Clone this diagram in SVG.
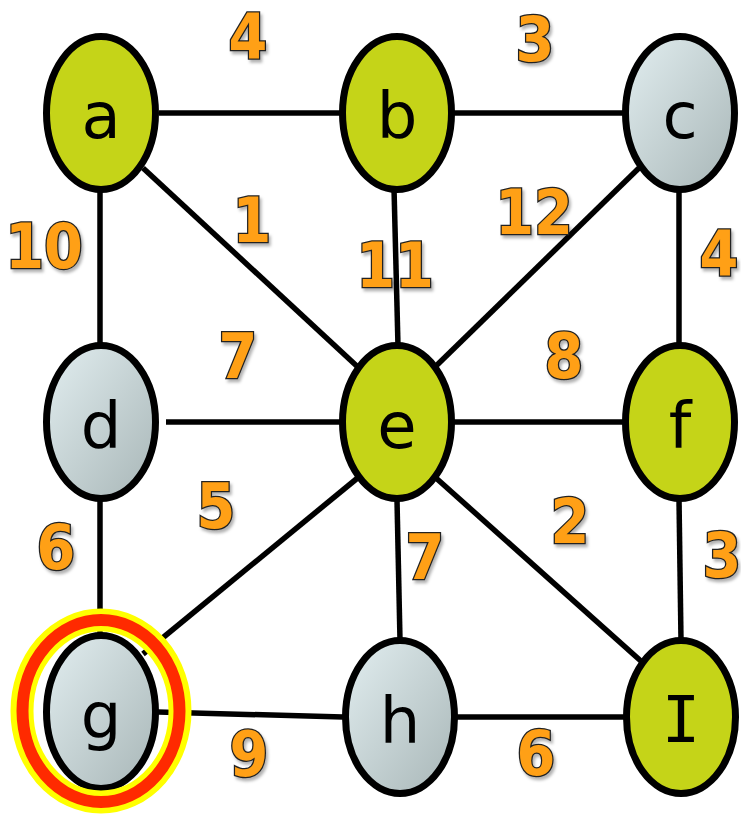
<svg xmlns="http://www.w3.org/2000/svg" width="741" height="815" viewBox="0 0 741 815">
<defs>
<linearGradient id="gray" x1="0" y1="0" x2="1" y2="1">
<stop offset="0" stop-color="#e2eef0"/>
<stop offset="1" stop-color="#a8b6b7"/>
</linearGradient>
<filter id="sh" x="-20%" y="-20%" width="150%" height="150%">
<feDropShadow dx="2" dy="3" stdDeviation="1.5" flood-color="#000" flood-opacity="0.3"/>
</filter>
</defs>
<style>
.edge{stroke:#000;stroke-width:5.5;fill:none}
.node ellipse{stroke:#000;stroke-width:7}
.green{fill:#c5d418}
.gray{fill:url(#gray)}
.lbl{font-family:"DejaVu Sans",Verdana,sans-serif;font-size:64px;fill:#000;text-anchor:middle}
.serif{font-family:"DejaVu Sans Mono","DejaVu Sans",monospace}
.w{font-family:"DejaVu Sans Condensed","DejaVu Sans",sans-serif;font-stretch:condensed;font-weight:bold;font-size:62px;fill:#ffa014;stroke:#222;stroke-width:2.5;paint-order:stroke;text-anchor:middle;filter:url(#sh)}
</style>
<rect width="741" height="815" fill="#fff"/>
<g id="connectors">
<line class="edge" x1="159" y1="113" x2="340" y2="113"/>
<line class="edge" x1="453" y1="113" x2="624" y2="113"/>
<line class="edge" x1="100" y1="190" x2="100" y2="346"/>
<line class="edge" x1="143" y1="168" x2="360" y2="369"/>
<line class="edge" x1="394" y1="188" x2="398" y2="346"/>
<line class="edge" x1="639" y1="168" x2="436" y2="366"/>
<line class="edge" x1="679" y1="190" x2="679" y2="346"/>
<line class="edge" x1="166" y1="422" x2="340" y2="422"/>
<line class="edge" x1="454" y1="422" x2="624" y2="422"/>
<line class="edge" x1="100" y1="498" x2="100" y2="636"/>
<line class="edge" x1="360" y1="476" x2="143" y2="654"/>
<line class="edge" x1="397" y1="500" x2="400" y2="640"/>
<line class="edge" x1="436" y1="478" x2="642" y2="662"/>
<line class="edge" x1="679" y1="499" x2="681" y2="640"/>
<line class="edge" x1="158" y1="712" x2="343" y2="717"/>
<line class="edge" x1="455" y1="717" x2="625" y2="717"/>
</g>
<g id="node-a" class="node"><ellipse class="green" cx="101" cy="113" rx="54.5" ry="76.5"/><text class="lbl" x="101" y="138">a</text></g>
<g id="node-b" class="node"><ellipse class="green" cx="397" cy="113" rx="54.5" ry="76.5"/><text class="lbl" x="397" y="138">b</text></g>
<g id="node-c" class="node"><ellipse class="gray" cx="680" cy="113" rx="54.5" ry="76.5"/><text class="lbl" x="680" y="138">c</text></g>
<g id="node-d" class="node"><ellipse class="gray" cx="101" cy="422" rx="54.5" ry="76.5"/><text class="lbl" x="101" y="448">d</text></g>
<g id="node-e" class="node"><ellipse class="green" cx="397" cy="422" rx="54.5" ry="76.5"/><text class="lbl" x="397" y="448">e</text></g>
<g id="node-f" class="node"><ellipse class="green" cx="680" cy="422" rx="54.5" ry="76.5"/><text class="lbl" x="680" y="448">f</text></g>
<g id="node-g" class="node"><ellipse class="gray" cx="101" cy="712" rx="54.5" ry="76.5"/><text class="lbl" x="101" y="738">g</text>
<ellipse cx="101" cy="711" rx="79" ry="91" fill="none" style="stroke:#ffff00;stroke-width:23"/>
<ellipse cx="101" cy="711" rx="78.5" ry="91" fill="none" style="stroke:#ff2a00;stroke-width:12"/></g>
<g id="node-h" class="node"><ellipse class="gray" cx="400" cy="717" rx="54.5" ry="76.5"/><text class="lbl" x="400" y="743">h</text></g>
<g id="node-I" class="node"><ellipse class="green" cx="681" cy="717" rx="54.5" ry="76.5"/><text class="lbl serif" x="681" y="742">I</text></g>
<g id="weights">
<text class="w" x="248" y="58">4</text>
<text class="w" x="535" y="61">3</text>
<text class="w" x="44" y="268">10</text>
<text class="w" x="252" y="242">1</text>
<text class="w" x="395" y="287">11</text>
<text class="w" x="534" y="234">12</text>
<text class="w" x="719" y="275">4</text>
<text class="w" x="238" y="378">7</text>
<text class="w" x="564" y="378">8</text>
<text class="w" x="216" y="528">5</text>
<text class="w" x="570" y="543">2</text>
<text class="w" x="56" y="569">6</text>
<text class="w" x="425" y="579">7</text>
<text class="w" x="722" y="577">3</text>
<text class="w" x="249" y="776">9</text>
<text class="w" x="536" y="775">6</text>
</g>
</svg>
